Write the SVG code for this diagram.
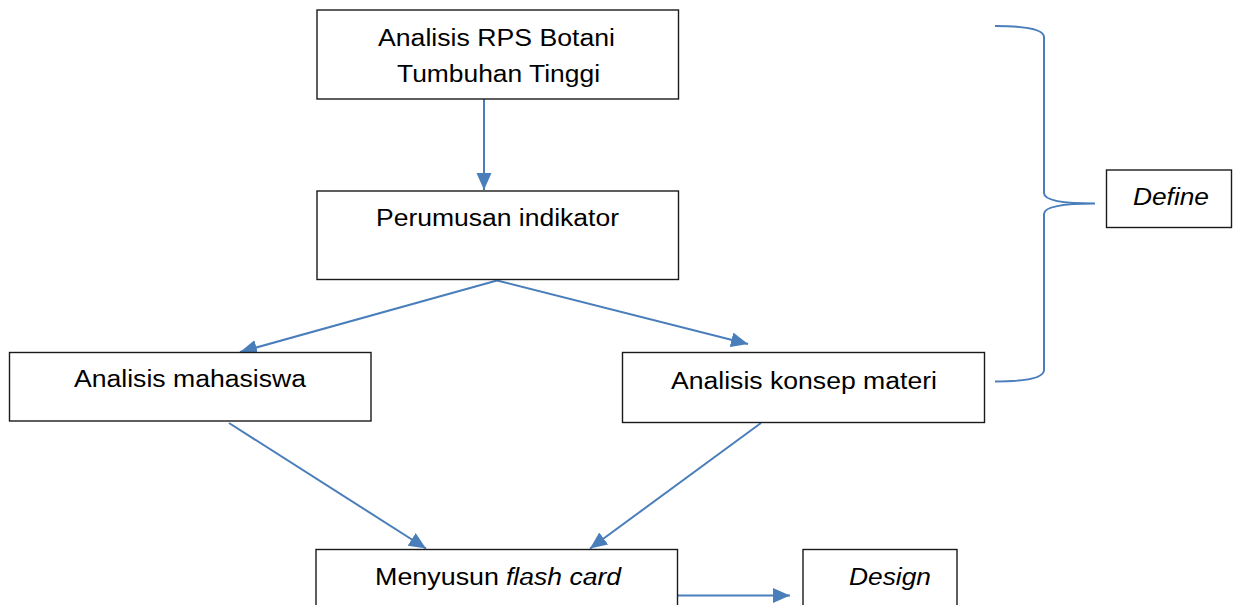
<svg xmlns="http://www.w3.org/2000/svg" width="1235" height="605" viewBox="0 0 1235 605">
<style>
.box{fill:#fff;stroke:#1a1a1a;stroke-width:1.4}
.t{font-family:"Liberation Sans",Arial,sans-serif;font-size:23.5px;fill:#000}
.i{font-style:italic}
.c{stroke:#4a7ebb;stroke-width:2;fill:none}
</style>
<defs>
<marker id="ah" markerUnits="userSpaceOnUse" markerWidth="18" markerHeight="16" refX="17" refY="7.5" orient="auto">
<path d="M0,0 L17,7.5 L0,15 z" fill="#4a7ebb"/>
</marker>
</defs>
<rect width="1235" height="605" fill="#fff"/>
<g id="connectors">
<line class="c" x1="484" y1="99" x2="484" y2="190" marker-end="url(#ah)"/>
<line class="c" x1="497" y1="280.5" x2="240" y2="352" marker-end="url(#ah)"/>
<line class="c" x1="497" y1="280.5" x2="748" y2="344" marker-end="url(#ah)"/>
<line class="c" x1="229" y1="423" x2="426" y2="548.5" marker-end="url(#ah)"/>
<line class="c" x1="761" y1="423" x2="590" y2="548.5" marker-end="url(#ah)"/>
<line class="c" x1="677" y1="595.5" x2="790" y2="595.5" marker-end="url(#ah)"/>
<path class="c" d="M995,26 Q1044,26 1044,37 V193 Q1044,203.5 1095,203.5 Q1044,203.5 1044,214 V370 Q1044,381.5 995,381.5"/>
</g>
<g id="n1">
<rect class="box" x="317" y="10" width="361.5" height="89"/>
<text class="t" x="378" y="46" textLength="237" lengthAdjust="spacingAndGlyphs">Analisis RPS Botani</text>
<text class="t" x="397" y="81.5" textLength="203" lengthAdjust="spacingAndGlyphs">Tumbuhan Tinggi</text>
</g>
<g id="n2">
<rect class="box" x="317" y="191" width="361.5" height="88.5"/>
<text class="t" x="376" y="226" textLength="243" lengthAdjust="spacingAndGlyphs">Perumusan indikator</text>
</g>
<g id="n3">
<rect class="box" x="9.5" y="352.5" width="361.5" height="68.5"/>
<text class="t" x="74" y="387" textLength="232" lengthAdjust="spacingAndGlyphs">Analisis mahasiswa</text>
</g>
<g id="n4">
<rect class="box" x="622.5" y="352.5" width="362" height="70"/>
<text class="t" x="671" y="389" textLength="266" lengthAdjust="spacingAndGlyphs">Analisis konsep materi</text>
</g>
<g id="n5">
<rect class="box" x="316" y="549.5" width="361.5" height="70"/>
<text class="t" x="375" y="585" textLength="124" lengthAdjust="spacingAndGlyphs">Menyusun</text>
<text class="t i" x="506" y="585" textLength="115" lengthAdjust="spacingAndGlyphs">flash card</text>
</g>
<g id="n6">
<rect class="box" x="803" y="549.5" width="154" height="70"/>
<text class="t i" x="849" y="585" textLength="82" lengthAdjust="spacingAndGlyphs">Design</text>
</g>
<g id="n7">
<rect class="box" x="1106.5" y="170" width="125" height="57.5"/>
<text class="t i" x="1133" y="205" textLength="76" lengthAdjust="spacingAndGlyphs">Define</text>
</g>
</svg>
